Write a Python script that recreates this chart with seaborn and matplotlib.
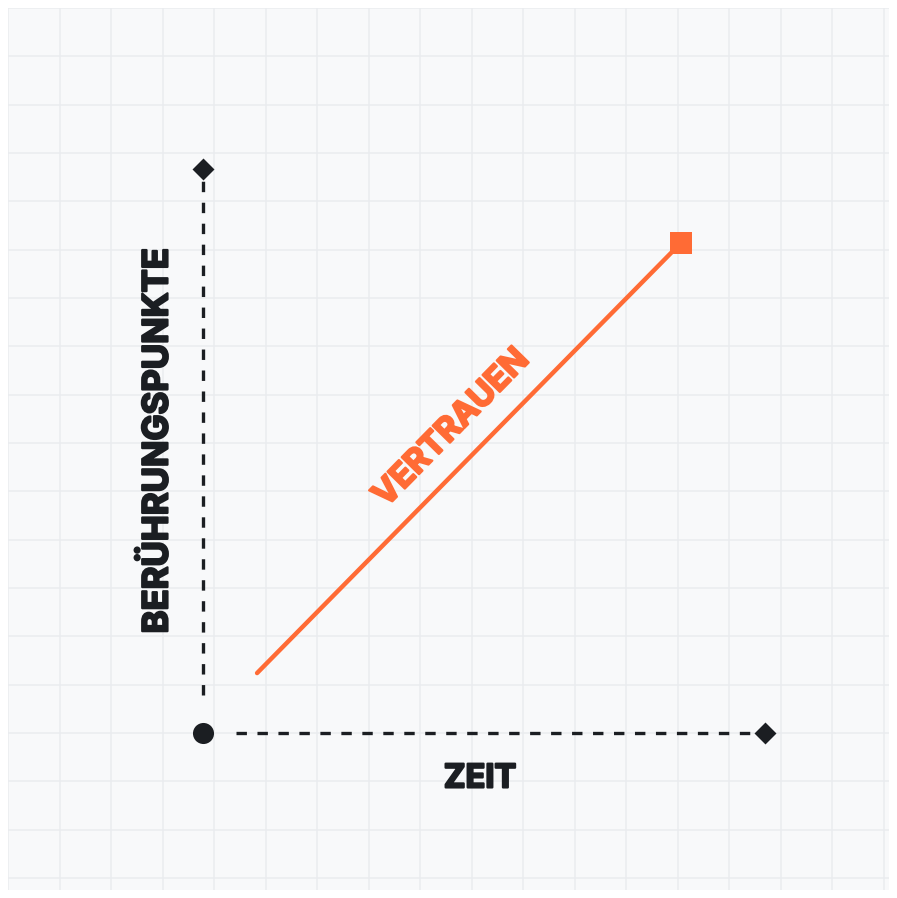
import numpy as np
import pandas as pd
import seaborn as sns
from matplotlib import pyplot as plt
from matplotlib import patheffects as pe

# chart content (units: x = time, y = touchpoints, origin at 0/0)
origin = (0.0, 0.0)
y_axis_end = (0.0, 11.67)
x_axis_end = (10.91, 0.0)
y_dash = [0.79, 11.43]
x_dash = [0.64, 10.76]
trust_x = [1.05, 9.28]
trust_y = [1.24, 10.14]

label_trust = 'VERTRAUEN'
label_y = 'BERÜHRUNGSPUNKTE'
label_x = 'ZEIT'

orange = '#ff6b35'
dark = '#1b1e22'

sns.set_theme(style='whitegrid', rc={
    'axes.facecolor': '#f8f9fa',
    'grid.color': '#eaecef',
    'grid.linewidth': 1.1,
    'lines.scale_dashes': False,
})
plt.rcParams['font.family'] = ['Inter', 'DejaVu Sans']

fig = plt.figure(figsize=(8.97, 8.98), dpi=100)
fig.patch.set_facecolor('white')
ax = fig.add_axes([8 / 897, 8 / 898, 881 / 897, 882 / 898])
ax.set_xlim(-3.786, 13.32)
ax.set_ylim(-3.248, 15)
ax.set_xticks(np.arange(-3.786, 13.4, 1.0))
ax.set_yticks(np.arange(-3, 16, 1.0))
ax.tick_params(length=0, labelbottom=False, labelleft=False)
for s in ax.spines.values():
    s.set_visible(False)

# dashed axes
dash = (0, (7.5, 7.6))
ax.plot([0, 0], y_dash, color=dark, lw=2.4, linestyle=dash)
ax.plot(x_dash, [0, 0], color=dark, lw=2.4, linestyle=dash)

# end markers
ends = pd.DataFrame({'x': [y_axis_end[0], x_axis_end[0]], 'y': [y_axis_end[1], x_axis_end[1]]})
sns.scatterplot(data=ends, x='x', y='y', marker='D', s=125, color=dark, linewidth=0, ax=ax)
sns.scatterplot(x=[origin[0]], y=[origin[1]], marker='o', s=230, color=dark, linewidth=0, ax=ax)

# trust line
trust = pd.DataFrame({'x': trust_x, 'y': trust_y})
sns.lineplot(data=trust, x='x', y='y', color=orange, lw=3.2, ax=ax)
sns.scatterplot(x=[trust_x[-1]], y=[trust_y[-1]], marker='s', s=250, color=orange, linewidth=0, ax=ax)

heavy_o = [pe.withStroke(linewidth=1.6, foreground=orange)]
heavy_d = [pe.withStroke(linewidth=1.6, foreground=dark)]
ax.text(4.83, 6.31, label_trust, color=orange, fontsize=24, fontweight='bold',
        rotation=45.5, rotation_mode='anchor', ha='center', va='center', path_effects=heavy_o)
ax.text(-0.874, 6.04, label_y, color=dark, fontsize=25, fontweight='bold',
        rotation=90, ha='center', va='center', path_effects=heavy_d)
ax.text(5.38, -0.95, label_x, color=dark, fontsize=23.5, fontweight='bold',
        ha='center', va='center', path_effects=heavy_d)

ax.set_xlabel('')
ax.set_ylabel('')
fig.savefig('out.png', dpi=100, facecolor='white')
